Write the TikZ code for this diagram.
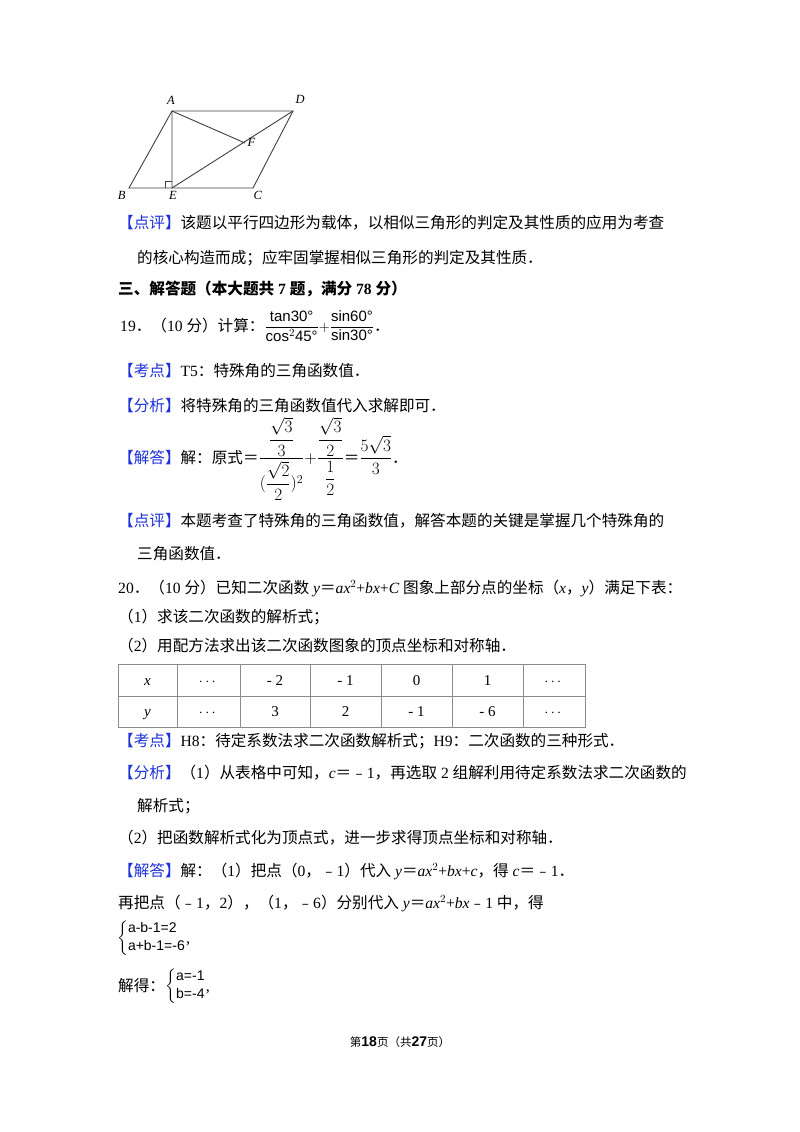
\documentclass[tikz,border=0pt]{standalone}
\usepackage{fontspec}
\usepackage{amsmath}
\setmainfont{Liberation Serif}
\newfontfamily\cjk{Noto Sans CJK SC}
\newfontfamily\sff{Liberation Sans}
\newcommand\latf{\rmfamily}
\XeTeXinterchartokenstate=1
\newXeTeXintercharclass\cjkcls
\def\setrange#1#2{\count255=#1 \loop\XeTeXcharclass\count255=\cjkcls\ifnum\count255<#2 \advance\count255 1 \repeat}
\setrange{"3000}{"303F}
\setrange{"4E00}{"9FFF}
\setrange{"FE30}{"FE6F}
\setrange{"FF00}{"FFEF}
\XeTeXinterchartoks 0 \cjkcls={\cjk}
\XeTeXinterchartoks 4095 \cjkcls={\cjk}
\XeTeXinterchartoks \cjkcls 0={\latf}
\XeTeXinterchartoks \cjkcls 4095={\latf}
\definecolor{tagblue}{RGB}{30,50,215}
\newcommand\bktag[1]{{\color{tagblue}【#1】}}
\newcommand\sfs[1]{\hbox{\sff\fontsize{15}{16}\selectfont #1}}
\newcommand\sfq[1]{\hbox{\sff\fontsize{14}{15}\selectfont #1}}
\tikzset{txt/.style={anchor=base west,inner sep=0pt,font=\fontsize{15.6}{18}\selectfont},
fig/.style={line width=0.9pt,draw=black!75}}
\begin{document}
\begin{tikzpicture}[x=1pt,y=-1pt]
\useasboundingbox[fill=white] (0,0) rectangle (800,1132);
% figure
\coordinate (A) at (172,111); \coordinate (D) at (293,111);
\coordinate (B) at (129,188); \coordinate (C) at (253,188);
\coordinate (E) at (172,188); \coordinate (F) at (245,143);
\draw[fig] (A)--(D)--(C)--(B)--cycle;
\draw[fig] (A)--(E) (A)--(F) (E)--(D);
\draw[fig,line width=0.7pt] (165,188)--(165,181)--(172,181);
\begin{scope}[font=\itshape\fontsize{12.5}{13}\selectfont]
\node[anchor=south] at (171,108) {A};
\node[anchor=south west] at (292,107) {D};
\node[anchor=north east] at (129,188) {B};
\node[anchor=north] at (173,188) {E};
\node[anchor=north west] at (250,188) {C};
\node[anchor=north west] at (244,135) {F};
\end{scope}
% text
\node[txt] (l1) at (118,228) {\bktag{点评}该题以平行四边形为载体，以相似三角形的判定及其性质的应用为考查};
\node[txt] (l2) at (137,263) {的核心构造而成；应牢固掌握相似三角形的判定及其性质．};
\node[txt,font=\fontsize{15.6}{18}\selectfont\bfseries] (l3) at (118,294) {三、解答题（本大题共 7 题，满分 78 分）};
\node[txt] (l4) at (120,331) {19．（10 分）计算：$\displaystyle\frac{\sfs{tan30°}}{\sfs{cos$^{2}$45°}}{+}\frac{\sfs{sin60°}}{\sfs{sin30°}}$．};
\node[txt] (l5) at (118,376) {\bktag{考点}T5：特殊角的三角函数值．};
\node[txt] (l6) at (118,411) {\bktag{分析}将特殊角的三角函数值代入求解即可．};
\node[txt] (l7) at (118,463) {\bktag{解答}解：原式＝{\fontsize{18}{22}\selectfont$\displaystyle\frac{\;\dfrac{\sqrt{3}}{3}\;}{(\dfrac{\sqrt{2}}{2})^{2}}{+}\frac{\dfrac{\sqrt{3}}{2}}{\dfrac{1}{2}}$}＝{\fontsize{18}{22}\selectfont$\dfrac{5\sqrt{3}}{3}$}．};
\node[txt] (l8) at (118,526) {\bktag{点评}本题考查了特殊角的三角函数值，解答本题的关键是掌握几个特殊角的};
\node[txt] (l9) at (137,559) {三角函数值．};
\node[txt] (l10) at (118,593) {20．（10 分）已知二次函数 \textit{y}＝\textit{ax}$^{2}$+\textit{bx}+\textit{C} 图象上部分点的坐标（\textit{x}，\textit{y}）满足下表：};
\node[txt] (l11) at (118,622) {（1）求该二次函数的解析式；};
\node[txt] (l12) at (118,651) {（2）用配方法求出该二次函数图象的顶点坐标和对称轴．};
% table
\draw[black!45,line width=0.7pt] (118,664) rectangle (585,727);
\draw[black!45,line width=0.7pt] (118,696)--(585,696);
\foreach \x in {177,240,310,381,452,523} \draw[black!45,line width=0.7pt] (\x,664)--(\x,727);
\begin{scope}[every node/.style={anchor=base,inner sep=0pt,font=\fontsize{15}{16}\selectfont}]
\node (x0) at (147.5,685) {\textit{x}}; \node (x1) at (208.5,685) {$\cdots$};
\node (x2) at (275,685) {- 2}; \node (x3) at (345.5,685) {- 1};
\node (x4) at (416.5,685) {0}; \node (x5) at (487.5,685) {1};
\node (x6) at (554,685) {$\cdots$};
\node (y0) at (147.5,716) {\textit{y}}; \node (y1) at (208.5,716) {$\cdots$};
\node (y2) at (275,716) {3}; \node (y3) at (345.5,716) {2};
\node (y4) at (416.5,716) {- 1}; \node (y5) at (487.5,716) {- 6};
\node (y6) at (554,716) {$\cdots$};
\end{scope}
\node[txt] (l13) at (118,746) {\bktag{考点}H8：待定系数法求二次函数解析式；H9：二次函数的三种形式．};
\node[txt] (l14) at (118,778) {\bktag{分析}（1）从表格中可知，\textit{c}＝﹣1，再选取 2 组解利用待定系数法求二次函数的};
\node[txt] (l15) at (137,811) {解析式；};
\node[txt] (l16) at (118,843) {（2）把函数解析式化为顶点式，进一步求得顶点坐标和对称轴．};
\node[txt] (l17) at (118,876) {\bktag{解答}解：（1）把点（0，﹣1）代入 \textit{y}＝\textit{ax}$^{2}$+\textit{bx}+\textit{c}，得 \textit{c}＝﹣1．};
\node[txt] (l18) at (118,908) {再把点（﹣1，2），（1，﹣6）分别代入 \textit{y}＝\textit{ax}$^{2}$+\textit{bx}﹣1 中，得};
\node[anchor=west,inner sep=0pt] (s1) at (117,938) {\fontsize{14}{17}\selectfont$\left\{\begin{array}{@{}l@{}}\sfq{a-b-1=2}\\[1pt]\sfq{a+b-1=-6}\end{array}\right.$\hbox{\raisebox{-2pt}{\fontsize{16}{16}\selectfont ,}}};
\node[txt] (l19) at (118,991) {解得：};
\node[anchor=west,inner sep=0pt] (s2) at (l19.east |- 0,986) {\fontsize{14}{17}\selectfont$\left\{\begin{array}{@{}l@{}}\sfq{a=-1}\\[1pt]\sfq{b=-4}\end{array}\right.$\hbox{\raisebox{-2pt}{\fontsize{16}{16}\selectfont ,}}};
\node[anchor=base,inner sep=0pt,font=\fontsize{11.5}{12}\selectfont] (ft) at (400,1046) {第\hbox{\sff\bfseries\fontsize{14}{14}\selectfont 18}页（共\hbox{\sff\bfseries\fontsize{14}{14}\selectfont 27}页）};
\end{tikzpicture}
\end{document}
